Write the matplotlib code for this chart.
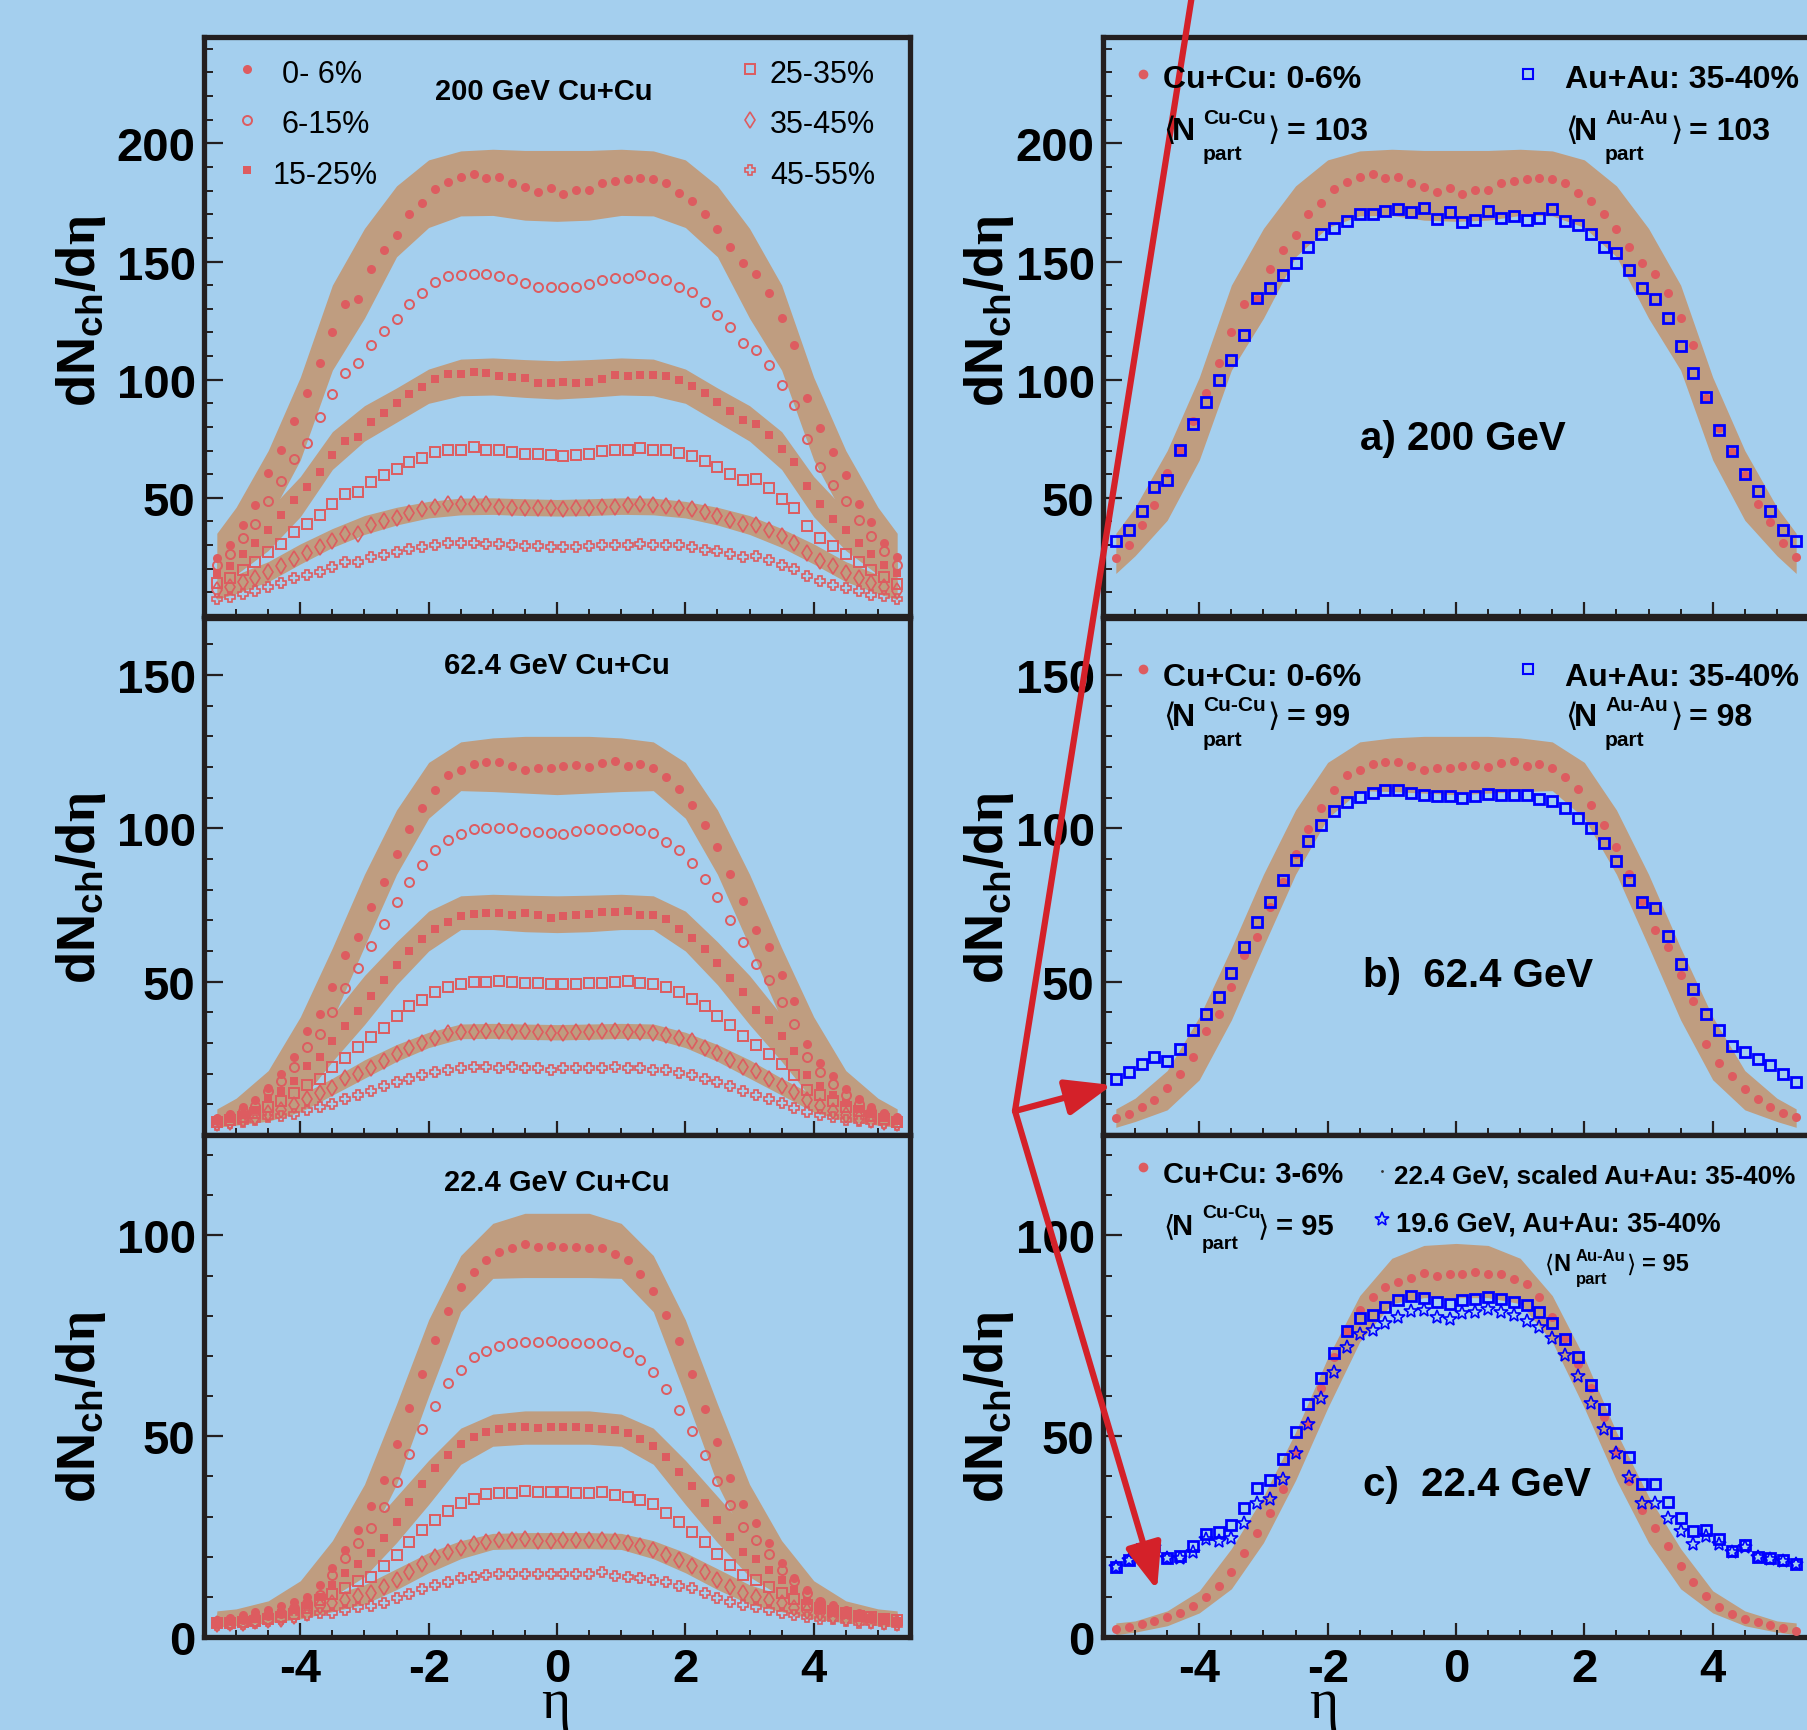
import numpy as np
import matplotlib
matplotlib.use('Agg')
import matplotlib.pyplot as plt
from matplotlib.ticker import MultipleLocator, FixedLocator

plt.rcParams['font.family'] = ['Liberation Sans', 'DejaVu Sans']
plt.rcParams['font.weight'] = 'bold'
plt.rcParams['axes.unicode_minus'] = False
plt.rcParams['mathtext.fontset'] = 'custom'
plt.rcParams['mathtext.rm'] = 'Liberation Serif'
plt.rcParams['mathtext.bf'] = 'Liberation Sans:bold'
plt.rcParams['mathtext.it'] = 'Liberation Sans:italic'

# ---- data: dN/deta vs eta (PHOBOS style) ----
ETA = [-5.3, -5.1, -4.9, -4.7, -4.5, -4.3, -4.1, -3.9, -3.7, -3.5,
       -3.3, -3.1, -2.9, -2.7, -2.5, -2.3, -2.1, -1.9, -1.7, -1.5,
       -1.3, -1.1, -0.9, -0.7, -0.5, -0.3, -0.1, 0.1, 0.3, 0.5,
       0.7, 0.9, 1.1, 1.3, 1.5, 1.7, 1.9, 2.1, 2.3, 2.5,
       2.7, 2.9, 3.1, 3.3, 3.5, 3.7, 3.9, 4.1, 4.3, 4.5,
       4.7, 4.9, 5.1, 5.3]

CENTRALITY = ['0- 6%', '6-15%', '15-25%', '25-35%', '35-45%', '45-55%']

# 200 GeV Cu+Cu
CU200_0_6 = [24.5, 30.0, 38.3, 46.8, 60.3, 70.4, 82.7, 94.4, 107.0, 120.3,
             132.1, 134.1, 146.9, 154.8, 161.1, 170.3, 174.8, 180.7, 183.7, 185.9,
             187.2, 185.4, 185.8, 183.1, 181.4, 179.4, 181.0, 178.7, 180.1, 180.4,
             183.1, 184.1, 185.1, 185.5, 184.8, 183.2, 179.2, 175.5, 170.0, 163.7,
             156.3, 149.2, 144.8, 136.6, 126.2, 114.8, 92.4, 79.7, 69.2, 59.7,
             47.6, 39.6, 31.1, 24.8]
CU200_6_15 = [21.7, 26.3, 32.9, 39.0, 48.7, 57.2, 66.3, 73.4, 84.4, 93.9,
              102.8, 107.0, 114.6, 120.8, 125.8, 132.0, 136.8, 141.4, 143.7, 144.5,
              144.9, 144.8, 143.9, 142.5, 140.7, 139.4, 139.2, 139.4, 139.4, 140.3,
              142.0, 143.1, 143.1, 144.5, 143.1, 142.1, 139.4, 136.9, 132.7, 127.5,
              122.4, 115.5, 112.7, 106.3, 97.6, 89.2, 75.1, 63.0, 55.6, 48.5,
              40.6, 33.7, 27.3, 21.7]
CU200_15_25 = [18.2, 21.3, 26.1, 30.8, 36.5, 42.8, 49.2, 54.5, 60.8, 68.2,
               74.1, 75.6, 82.3, 86.1, 90.0, 94.1, 96.8, 100.1, 102.3, 102.3,
               103.2, 102.8, 101.7, 101.1, 100.8, 98.7, 98.5, 99.2, 98.5, 99.2,
               100.4, 102.1, 101.7, 102.1, 101.8, 101.7, 99.7, 97.2, 94.2, 90.7,
               86.9, 83.0, 81.1, 76.5, 70.8, 65.1, 54.8, 47.2, 41.1, 36.2,
               31.0, 26.3, 21.7, 18.0]
CU200_25_35 = [14.0, 16.2, 19.4, 22.7, 26.9, 30.6, 35.4, 39.0, 42.8, 47.6,
               51.5, 52.5, 56.9, 59.6, 62.3, 65.2, 66.8, 69.2, 70.4, 70.4,
               71.4, 70.4, 70.4, 69.6, 68.7, 68.5, 68.0, 67.6, 68.3, 68.6,
               69.7, 70.4, 70.1, 71.0, 70.3, 70.3, 68.9, 67.5, 65.5, 63.1,
               60.1, 57.6, 58.0, 54.0, 49.3, 45.8, 37.9, 33.1, 29.6, 26.2,
               22.8, 19.6, 16.6, 13.5]
CU200_35_45 = [10.8, 12.3, 14.2, 16.1, 18.5, 21.1, 24.0, 26.6, 29.3, 31.8,
               34.5, 34.8, 38.3, 40.1, 41.5, 43.4, 45.1, 46.2, 47.2, 47.2,
               47.3, 47.2, 46.2, 45.9, 45.9, 45.6, 45.5, 45.4, 45.9, 45.8,
               46.0, 46.3, 46.9, 47.2, 47.0, 46.5, 45.9, 45.4, 44.0, 42.3,
               40.7, 39.0, 38.7, 36.2, 33.8, 30.7, 26.5, 23.2, 21.1, 18.2,
               16.1, 14.0, 12.3, 10.6]
CU200_45_55 = [7.0, 8.0, 9.3, 10.7, 12.1, 14.1, 16.1, 17.5, 18.7, 20.7,
               22.7, 22.8, 24.8, 25.9, 27.0, 28.5, 29.3, 30.0, 30.7, 31.0,
               31.0, 30.5, 30.3, 29.9, 29.6, 29.6, 29.0, 29.3, 29.4, 29.6,
               29.9, 30.2, 30.0, 30.5, 30.2, 30.0, 29.9, 29.0, 28.0, 27.5,
               26.4, 25.1, 25.4, 23.5, 21.7, 19.7, 17.0, 14.8, 13.1, 11.8,
               10.6, 9.0, 8.3, 7.0]

# 62.4 GeV Cu+Cu
CU62_0_6 = [5.5, 7.0, 9.0, 11.4, 15.3, 19.9, 25.3, 34.0, 39.5, 48.3,
            58.6, 64.5, 74.3, 82.5, 91.7, 99.7, 106.7, 112.5, 117.4, 118.9,
            121.1, 121.8, 121.5, 120.3, 119.1, 119.8, 119.6, 120.3, 120.8, 120.1,
            121.4, 122.1, 120.4, 121.1, 119.7, 116.8, 112.8, 107.6, 101.0, 93.8,
            85.2, 76.2, 66.8, 61.2, 52.2, 43.6, 29.7, 23.4, 19.1, 15.0,
            11.7, 9.0, 7.3, 6.0]
CU62_6_15 = [4.8, 6.1, 7.7, 9.6, 14.5, 17.5, 22.1, 28.7, 33.0, 40.0,
             47.8, 54.6, 61.5, 68.8, 76.0, 82.5, 88.0, 92.9, 96.2, 98.0,
             99.8, 100.0, 100.0, 100.0, 98.9, 98.9, 98.6, 98.2, 99.0, 99.9,
             99.7, 99.6, 100.1, 99.6, 98.5, 95.5, 93.0, 88.6, 83.5, 77.5,
             70.2, 62.8, 55.7, 50.4, 43.3, 36.2, 25.3, 20.4, 16.6, 13.2,
             10.1, 7.9, 6.4, 5.2]
CU62_15_25 = [4.5, 5.3, 6.6, 8.2, 12.1, 14.2, 17.7, 22.4, 25.3, 30.5,
              35.4, 40.5, 45.4, 50.4, 55.3, 60.1, 64.0, 67.1, 69.6, 71.5,
              72.2, 72.4, 72.5, 71.8, 72.4, 71.8, 70.8, 71.5, 71.8, 72.1,
              72.8, 72.6, 72.9, 71.6, 71.7, 70.3, 67.3, 64.2, 60.7, 56.1,
              51.2, 46.5, 40.8, 37.4, 32.2, 27.3, 19.7, 16.1, 13.2, 10.4,
              8.6, 6.8, 5.5, 4.5]
CU62_25_35 = [4.2, 4.9, 5.9, 7.2, 9.2, 11.2, 13.7, 16.3, 18.4, 22.2,
              25.1, 28.7, 31.8, 34.9, 38.7, 42.2, 44.1, 46.5, 48.2, 49.1,
              49.9, 49.9, 50.1, 49.8, 49.6, 49.6, 49.3, 49.2, 49.1, 49.6,
              49.5, 49.8, 50.1, 49.7, 49.2, 48.4, 46.5, 44.5, 42.1, 38.8,
              36.0, 32.4, 29.5, 26.5, 23.2, 19.7, 14.8, 13.0, 11.0, 9.1,
              7.7, 6.3, 5.2, 4.2]
CU62_35_45 = [3.9, 4.3, 5.1, 6.0, 7.2, 8.3, 9.9, 11.7, 13.6, 15.3,
              18.6, 19.9, 21.8, 24.2, 26.3, 28.4, 30.0, 31.6, 33.2, 33.5,
              33.7, 34.0, 33.8, 33.5, 34.0, 33.6, 33.4, 33.4, 33.5, 33.7,
              34.0, 33.8, 33.7, 33.7, 33.4, 32.5, 31.6, 30.5, 28.4, 26.6,
              24.5, 22.1, 20.8, 18.4, 15.9, 13.9, 11.3, 9.3, 7.9, 6.6,
              5.7, 5.0, 4.3, 3.8]
CU62_45_55 = [3.4, 3.8, 4.2, 5.0, 5.8, 6.1, 6.8, 8.3, 9.0, 10.2,
              11.6, 13.2, 14.2, 15.9, 17.2, 18.4, 19.7, 20.5, 21.1, 21.8,
              22.1, 22.1, 21.8, 22.1, 21.7, 21.8, 21.3, 21.7, 21.7, 21.7,
              21.7, 22.2, 21.8, 21.7, 21.3, 21.1, 20.3, 19.5, 18.3, 17.2,
              15.9, 14.2, 13.2, 11.8, 10.4, 8.8, 7.4, 6.4, 5.8, 5.0,
              4.7, 4.2, 3.9, 3.4]

# 22.4 GeV Cu+Cu
CU22_0_6 = [4.2, 4.8, 5.5, 6.3, 6.7, 7.6, 8.8, 10.0, 12.9, 17.1,
            21.7, 26.6, 32.6, 39.1, 48.0, 56.9, 65.5, 73.9, 81.2, 87.1,
            91.0, 93.9, 95.9, 96.8, 97.9, 97.2, 97.3, 97.2, 97.1, 96.9,
            96.8, 95.4, 93.9, 90.5, 86.2, 80.3, 73.7, 65.6, 56.8, 48.5,
            39.7, 33.0, 28.5, 23.5, 18.5, 14.6, 11.7, 8.8, 8.0, 6.7,
            5.9, 5.3, 4.6, 4.1]
CU22_6_15 = [3.8, 4.2, 4.6, 5.1, 5.5, 6.1, 7.1, 8.4, 10.5, 15.4,
             19.6, 23.3, 27.1, 32.4, 38.5, 45.5, 51.7, 57.6, 63.2, 66.5,
             69.8, 71.2, 72.5, 73.1, 73.4, 73.4, 73.6, 73.3, 73.3, 73.2,
             73.2, 72.4, 70.9, 69.0, 65.9, 61.7, 56.5, 51.3, 45.2, 38.8,
             32.9, 27.5, 24.2, 20.6, 16.8, 13.9, 10.9, 8.8, 7.1, 6.1,
             5.5, 4.8, 4.4, 3.8]
CU22_15_25 = [3.6, 4.0, 4.2, 4.6, 5.2, 5.9, 6.7, 8.0, 10.0, 12.9,
              15.9, 18.3, 20.8, 24.7, 28.7, 33.5, 38.1, 42.0, 45.3, 48.0,
              49.8, 51.1, 51.9, 52.3, 52.3, 52.0, 52.3, 52.2, 52.3, 52.1,
              51.8, 51.5, 50.9, 49.3, 47.6, 44.9, 41.2, 37.6, 33.4, 29.1,
              24.9, 21.2, 19.4, 16.8, 14.2, 11.7, 9.0, 7.3, 6.5, 5.7,
              5.2, 4.8, 4.5, 4.0]
CU22_25_35 = [3.4, 3.6, 3.8, 4.1, 4.6, 5.1, 5.7, 7.1, 9.2, 10.6,
              12.3, 13.9, 15.0, 17.7, 20.4, 23.6, 26.6, 29.1, 31.4, 33.3,
              34.4, 35.5, 35.9, 35.9, 36.3, 36.0, 36.0, 36.0, 35.9, 35.9,
              36.1, 35.4, 34.9, 34.1, 33.0, 31.0, 28.7, 26.2, 23.7, 20.6,
              17.9, 15.4, 14.3, 12.4, 10.9, 9.5, 8.0, 7.1, 6.5, 5.9,
              5.3, 4.9, 4.6, 4.2]
CU22_35_45 = [3.2, 3.4, 3.6, 4.0, 4.2, 4.6, 5.2, 6.1, 7.7, 8.4,
              9.2, 10.3, 11.0, 12.4, 14.3, 16.3, 18.1, 19.8, 21.2, 22.2,
              23.2, 23.7, 24.1, 24.1, 24.3, 24.0, 24.0, 24.1, 24.1, 24.1,
              24.1, 23.9, 23.5, 22.7, 21.6, 20.4, 19.1, 17.8, 16.1, 14.3,
              12.5, 10.9, 10.0, 9.2, 8.4, 7.3, 6.5, 5.9, 5.3, 4.8,
              4.5, 4.1, 3.8, 3.4]
CU22_45_55 = [3.0, 3.2, 3.3, 3.6, 4.0, 4.4, 5.1, 5.5, 5.9, 6.1,
              6.7, 7.5, 7.7, 8.4, 9.8, 10.6, 11.9, 12.9, 13.8, 14.6,
              14.9, 15.4, 15.6, 15.6, 15.6, 15.8, 15.6, 15.6, 15.6, 15.6,
              16.1, 15.3, 15.0, 14.8, 14.3, 13.6, 12.8, 12.1, 10.9, 9.8,
              8.8, 8.0, 7.5, 6.7, 6.1, 5.5, 5.1, 4.6, 4.4, 4.0,
              3.6, 3.4, 3.2, 3.0]
CU22_3_6 = [2.1, 2.6, 3.2, 4.0, 5.0, 6.1, 7.8, 9.9, 12.8, 16.3,
            21.0, 25.9, 30.9, 36.9, 45.8, 53.1, 62.0, 69.7, 76.2, 81.4,
            84.6, 87.1, 88.3, 89.5, 90.6, 90.0, 90.3, 90.3, 90.8, 90.3,
            90.3, 89.2, 87.9, 84.6, 79.8, 74.4, 68.0, 62.0, 54.7, 46.3,
            38.8, 31.7, 27.2, 22.7, 17.8, 13.8, 10.2, 7.4, 5.7, 4.5,
            3.7, 2.9, 2.3, 1.6]

# Au+Au 35-40%
AU200_35_40 = [31.7, 36.6, 44.4, 54.5, 57.7, 70.4, 81.3, 90.4, 99.7, 108.5,
               118.9, 134.5, 138.7, 144.5, 149.2, 156.1, 161.7, 164.1, 167.3, 169.9,
               170.1, 171.5, 172.1, 170.8, 172.7, 167.9, 171.0, 166.8, 167.7, 171.4,
               168.5, 169.3, 167.5, 168.5, 172.4, 167.2, 165.6, 161.8, 156.3, 153.8,
               146.3, 138.6, 134.1, 126.1, 114.4, 102.8, 92.5, 78.9, 69.7, 60.1,
               52.8, 44.4, 36.3, 31.8]
AU62_35_40 = [18.1, 20.6, 23.2, 25.3, 24.2, 28.2, 34.1, 39.4, 45.1, 52.7,
              61.2, 69.4, 76.0, 83.0, 89.7, 95.9, 101.0, 105.6, 108.6, 110.3,
              111.5, 112.6, 112.6, 111.5, 110.9, 110.7, 110.7, 110.0, 110.7, 111.1,
              110.9, 110.9, 110.9, 109.6, 108.8, 106.7, 103.5, 100.1, 95.2, 89.3,
              83.2, 76.0, 74.1, 64.8, 55.9, 47.7, 39.6, 34.1, 28.9, 27.0,
              24.8, 22.7, 20.0, 17.2]
AU22_SCALED_35_40 = [17.5, 19.1, 22.0, 22.7, 19.7, 20.2, 22.7, 25.6, 26.2, 28.0,
                     32.0, 37.2, 39.0, 44.2, 51.0, 57.9, 64.4, 70.6, 76.1, 79.4,
                     80.3, 82.2, 83.8, 84.8, 84.5, 83.3, 82.8, 83.8, 84.1, 84.6,
                     84.1, 83.5, 82.7, 80.9, 78.2, 74.1, 69.6, 62.8, 56.8, 50.8,
                     44.7, 38.0, 38.0, 33.7, 29.6, 26.4, 26.7, 24.3, 21.5, 22.8,
                     19.9, 19.6, 19.1, 18.3]
AU19_35_40 = [17.5, 19.1, 21.5, 22.3, 19.7, 19.7, 21.2, 24.3, 23.9, 24.6,
              28.5, 33.3, 34.3, 39.3, 45.8, 53.1, 59.5, 66.0, 72.2, 75.4,
              76.5, 78.2, 79.8, 81.1, 81.4, 79.8, 79.3, 80.6, 80.9, 81.7,
              80.9, 80.1, 78.6, 77.3, 74.4, 70.1, 65.0, 58.3, 51.8, 45.8,
              39.8, 33.3, 33.3, 29.6, 26.4, 23.1, 25.2, 23.1, 21.2, 22.3,
              19.9, 19.4, 18.8, 18.1]

# systematic bands, read at eta >= 0 (symmetric)
BAND_ETA = [0.0, 0.5, 1.0, 1.5, 2.0, 2.5, 3.0, 3.5, 4.0, 4.5, 5.0, 5.3]
B200_0_6_HI = [197, 197, 197.5, 196.8, 193, 182, 164, 140, 101, 70, 46, 35]
B200_0_6_LO = [167, 167.5, 169.5, 169.3, 164.4, 152, 126, 104, 66, 40.5, 25.5, 18]
B200_15_25_HI = [108, 108.5, 109.2, 108.7, 104.5, 96.5, 89, 78, 59, 44.6, 31, 26]
B200_15_25_LO = [91.8, 92.5, 93.5, 93.2, 90, 82, 74, 62, 42, 27.7, 17.5, 12]
B200_35_45_HI = [49.3, 49.6, 50, 49.9, 48.5, 46, 42.5, 37, 30.5, 23, 17.5, 15]
B200_35_45_LO = [42.3, 42.5, 43, 42.8, 41.5, 38.5, 34.5, 29, 22, 14.5, 9.5, 7]
B62_0_6_HI = [130, 130, 129.5, 128.2, 121.5, 106, 85, 61, 38.5, 21, 12, 8.5]
B62_0_6_LO = [111, 111.5, 112, 112.3, 103.3, 85, 61.5, 37.5, 18, 8.2, 4.4, 2.5]
B62_15_25_HI = [78, 78.2, 78.5, 78, 73, 63, 52, 39, 25, 15, 9, 7]
B62_15_25_LO = [66, 66.3, 67, 67, 60, 49, 36, 24, 11, 6, 3.5, 2.5]
B62_35_45_HI = [36, 36.2, 36.4, 36.2, 33.5, 29.5, 24.5, 18.5, 13, 8.5, 6.5, 5.3]
B62_35_45_LO = [31, 31.2, 31.5, 31.4, 28.5, 24, 18.5, 13, 7.5, 4.5, 3.2, 2.5]
B22_0_6_HI = [105.5, 105.5, 103, 95, 79, 58, 38, 24, 14, 9, 7, 6.5]
B22_0_6_LO = [89.5, 89.5, 89.3, 81, 60, 38, 22, 12.5, 6.5, 4.5, 3, 2.5]
B22_15_25_HI = [56.3, 56.3, 55.5, 52, 44, 35, 26, 18, 11.5, 8, 6.5, 6]
B22_15_25_LO = [48, 48, 47.5, 43, 33, 23.5, 15, 10, 5.5, 3.8, 3, 2.5]
B22_35_45_HI = [26, 26, 25.8, 24, 21, 17, 13, 10.5, 8, 6.5, 5.5, 5]
B22_35_45_LO = [22, 22, 21.8, 19.5, 16, 11.8, 8.2, 6.3, 4.5, 3.5, 2.8, 2.5]
B22_3_6_HI = [98, 97.5, 94.3, 85, 69.5, 51, 35, 22, 11.5, 6.5, 4, 3.5]
B22_3_6_LO = [84.5, 84.5, 83, 73.5, 57, 39, 23.5, 12, 6, 2.8, 1.2, 0.6]

# ---- style ----
BG = '#a4cfee'
BAND = '#bf9d80'
RED = '#dd5c60'
BLUE = '#0000ff'
FRAME = '#231f20'
ARROW = '#d42129'
W, H = 1808, 1731

STY = [dict(marker='o', ms=6.5, mfc=RED, mec=RED, mew=0),
       dict(marker='o', ms=6.5, mfc='none', mec=RED, mew=1.4),
       dict(marker='s', ms=6.0, mfc=RED, mec=RED, mew=0),
       dict(marker='s', ms=6.5, mfc='none', mec=RED, mew=1.4),
       dict(marker='d', ms=8.0, mfc='none', mec=RED, mew=1.2),
       dict(marker='P', ms=7.5, mfc='none', mec=RED, mew=1.2)]
SQ_BLUE = dict(marker='s', ms=7.5, mfc='none', mec=BLUE, mew=2.0)
STAR_BLUE = dict(marker='*', ms=10, mfc='none', mec=BLUE, mew=1.2)

fig = plt.figure(figsize=(W / 100, H / 100), dpi=100, facecolor=BG)


def sym(v):
    v = np.asarray(v, float)
    return np.concatenate([v[:0:-1], v])


BE = np.concatenate([-np.asarray(BAND_ETA)[:0:-1], BAND_ETA])


def make_ax(x0, y0, y1, ylim, yticks, xlabels=False):
    ax = fig.add_axes([x0 / W, 1 - y1 / H, 706 / W, (y1 - y0) / H])
    ax.set_facecolor(BG)
    for s in ax.spines.values():
        s.set_linewidth(3.8)
        s.set_color(FRAME)
    ax.set_xlim(-5.5, 5.5)
    ax.set_ylim(*ylim)
    ax.xaxis.set_major_locator(FixedLocator([-4, -2, 0, 2, 4]))
    ax.xaxis.set_minor_locator(MultipleLocator(0.5))
    ax.yaxis.set_major_locator(FixedLocator(yticks))
    ax.yaxis.set_minor_locator(MultipleLocator(10))
    ax.tick_params(axis='y', which='major', direction='in', length=14, width=1.6,
                   labelsize=34, pad=6, right=False, color=FRAME)
    ax.tick_params(axis='y', which='minor', direction='in', length=6.5, width=1.4,
                   right=False, color=FRAME)
    ax.tick_params(axis='x', which='major', direction='in', length=10, width=1.6,
                   labelsize=34, pad=7, top=False, labelbottom=xlabels, color=FRAME)
    ax.tick_params(axis='x', which='minor', direction='in', length=5, width=1.4,
                   top=False, color=FRAME)
    return ax


def band(ax, hi, lo):
    ax.fill_between(BE, sym(lo), sym(hi), color=BAND, lw=0, zorder=1)


def pts(ax, vals, st):
    ax.plot(ETA, vals, ls='none', zorder=3, **st)


rows = [(38, 617, (0, 245), [50, 100, 150, 200]),
        (619, 1136, (0, 168.6), [50, 100, 150]),
        (1136, 1638, (0, 125), [0, 50, 100])]

left_data = [
    ([CU200_0_6, CU200_6_15, CU200_15_25, CU200_25_35, CU200_35_45, CU200_45_55],
     [(B200_0_6_HI, B200_0_6_LO), (B200_15_25_HI, B200_15_25_LO), (B200_35_45_HI, B200_35_45_LO)]),
    ([CU62_0_6, CU62_6_15, CU62_15_25, CU62_25_35, CU62_35_45, CU62_45_55],
     [(B62_0_6_HI, B62_0_6_LO), (B62_15_25_HI, B62_15_25_LO), (B62_35_45_HI, B62_35_45_LO)]),
    ([CU22_0_6, CU22_6_15, CU22_15_25, CU22_25_35, CU22_35_45, CU22_45_55],
     [(B22_0_6_HI, B22_0_6_LO), (B22_15_25_HI, B22_15_25_LO), (B22_35_45_HI, B22_35_45_LO)]),
]

for i, (y0, y1, yl, yt) in enumerate(rows):
    ax = make_ax(204, y0, y1, yl, yt, xlabels=(i == 2))
    series, bands = left_data[i]
    for hi, lo in bands:
        band(ax, hi, lo)
    for vals, st in zip(series, STY):
        pts(ax, vals, st)

# right column
axr = [make_ax(1103, y0, y1, yl, yt, xlabels=(i == 2)) for i, (y0, y1, yl, yt) in enumerate(rows)]
band(axr[0], B200_0_6_HI, B200_0_6_LO)
pts(axr[0], CU200_0_6, STY[0])
pts(axr[0], AU200_35_40, SQ_BLUE)
band(axr[1], B62_0_6_HI, B62_0_6_LO)
pts(axr[1], CU62_0_6, STY[0])
pts(axr[1], AU62_35_40, SQ_BLUE)
band(axr[2], B22_3_6_HI, B22_3_6_LO)
pts(axr[2], CU22_3_6, STY[0])
pts(axr[2], AU22_SCALED_35_40, SQ_BLUE)
pts(axr[2], AU19_35_40, STAR_BLUE)

# ---- overlay in pixel coordinates for texts and arrows ----
ov = fig.add_axes([0, 0, 1, 1], zorder=10)
ov.set_xlim(0, W)
ov.set_ylim(H, 0)
ov.axis('off')
ov.patch.set_alpha(0)


def txt(x, yc, s, size, **kw):
    # yc = vertical centre of capitals
    ov.text(x, yc + 0.36 * size * 100 / 72, s, fontsize=size, va='baseline', ha='left', **kw)


def npart(xl, xn, xs, xr, xe, yc, ys, yp, sup, val, size, ssize):
    txt(xl, yc, '\u27e8', size, family=['DejaVu Sans'], fontweight='normal')
    txt(xn, yc, 'N', size)
    txt(xs, ys, sup, ssize)
    txt(xs, yp, 'part', ssize)
    txt(xr, yc, '\u27e9', size, family=['DejaVu Sans'], fontweight='normal')
    txt(xe, yc, val, size)


ylab = r'$\mathbf{dN}_{\mathbf{ch}}\mathbf{/d}\mathrm{\eta}$'
for xc in (81, 989):
    for yc in (311, 888, 1407):
        ov.text(xc, yc, ylab, rotation=90, ha='center', va='center', fontsize=38)
for xc in (556, 1324):
    ov.text(xc, 1718, '\u03b7', family=['Liberation Serif'], fontweight='normal',
            fontsize=40, ha='center', va='baseline')

# left legend (top panel)
leg_y = [70, 121, 171]
for k in range(3):
    ov.plot([247], [leg_y[k]], ls='none', **STY[k])
    ov.plot([750], [leg_y[k]], ls='none', **STY[k + 3])
txt(282, 72, CENTRALITY[0], 22, fontweight='normal')
txt(282, 122, CENTRALITY[1], 22, fontweight='normal')
txt(273, 173, CENTRALITY[2], 22, fontweight='normal')
for k in range(3):
    txt(770, [72, 122, 173][k], CENTRALITY[k + 3], 22, fontweight='normal')

ov.text(544, 92, '200 GeV Cu+Cu', fontsize=21, ha='center', va='center')
ov.text(557, 666, '62.4 GeV Cu+Cu', fontsize=21, ha='center', va='center')
ov.text(557, 1183, '22.4 GeV Cu+Cu', fontsize=21, ha='center', va='center')

# right top
ov.plot([1143], [75], ls='none', marker='o', ms=7, mfc=RED, mew=0)
txt(1163, 77, 'Cu+Cu: 0-6%', 23)
ov.plot([1528], [75], ls='none', marker='s', ms=6.5, mfc='none', mec=BLUE, mew=1.5)
txt(1565, 77, 'Au+Au: 35-40%', 23)
npart(1163, 1172, 1203, 1267, 1287, 129, 117, 153, 'Cu-Cu', '= 103', 23, 15)
npart(1565, 1574, 1605, 1670, 1689, 129, 117, 153, 'Au-Au', '= 103', 23, 15)
txt(1360, 436, 'a) 200 GeV', 29)

# right middle
ov.plot([1143], [670], ls='none', marker='o', ms=7, mfc=RED, mew=0)
txt(1163, 675, 'Cu+Cu: 0-6%', 23)
ov.plot([1528], [670], ls='none', marker='s', ms=6.5, mfc='none', mec=BLUE, mew=1.5)
txt(1565, 675, 'Au+Au: 35-40%', 23)
npart(1163, 1172, 1203, 1267, 1287, 715, 704, 739, 'Cu-Cu', '= 99', 23, 15)
npart(1565, 1574, 1605, 1670, 1689, 715, 704, 739, 'Au-Au', '= 98', 23, 15)
txt(1363, 973, 'b)  62.4 GeV', 29)

# right bottom
ov.plot([1143], [1168], ls='none', marker='o', ms=7, mfc=RED, mew=0)
txt(1163, 1173, 'Cu+Cu: 3-6%', 21)
ov.plot([1382], [1172], ls='none', marker='.', ms=2, color='#333333')
txt(1394, 1175, '22.4 GeV, scaled Au+Au: 35-40%', 18.8)
ov.plot([1382], [1220], ls='none', marker='*', ms=10, mfc='none', mec=BLUE, mew=1.2)
txt(1396, 1222, '19.6 GeV, Au+Au: 35-40%', 19.5)
npart(1163, 1172, 1202, 1258, 1276, 1225, 1211, 1242, 'Cu-Cu', '= 95', 21, 14)
npart(1545, 1553, 1576, 1626, 1642, 1263, 1255, 1278, 'Au-Au', '= 95', 17, 12)
txt(1363, 1482, 'c)  22.4 GeV', 29)

# red arrows
ov.plot([1193, 1015], [-10, 1112], color=ARROW, lw=4.5, solid_capstyle='round')
ap = dict(arrowstyle='-|>,head_length=1.4,head_width=0.55', color=ARROW, lw=4.5,
          shrinkA=0, shrinkB=0, mutation_scale=20)
ov.annotate('', xy=(1112, 1086), xytext=(1015, 1112), arrowprops=ap)
ov.annotate('', xy=(1157, 1591), xytext=(1015, 1112), arrowprops=ap)

fig.savefig('out.png', dpi=100, facecolor=BG)
